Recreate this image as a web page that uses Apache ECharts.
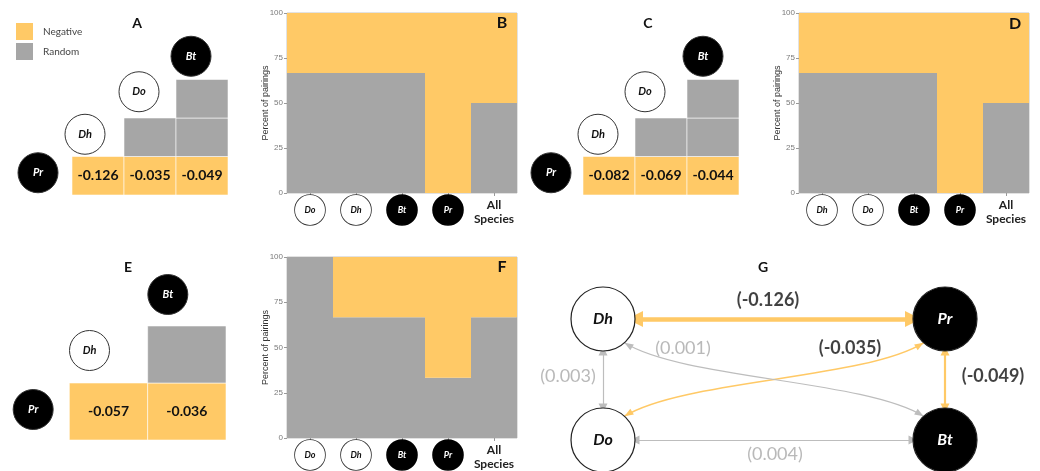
<!DOCTYPE html>
<html><head><meta charset="utf-8">
<script src="https://cdn.jsdelivr.net/npm/echarts@6/dist/echarts.min.js"></script>
<style>html,body{margin:0;padding:0;background:#fff}#c{width:1040px;height:471px}</style>
</head><body><div id="c"></div>
<script>
// ---------------- DATA ----------------
// Panels A, C, E: pairwise matrices  [column species, row species, association, C-score value]
const speciesA = ['Pr', 'Dh', 'Do', 'Bt'];
const cellsA = [['Dh','Pr','Negative',-0.126], ['Do','Pr','Negative',-0.035], ['Bt','Pr','Negative',-0.049],
                ['Do','Dh','Random',null], ['Bt','Dh','Random',null], ['Bt','Do','Random',null]];
const speciesC = ['Pr', 'Dh', 'Do', 'Bt'];
const cellsC = [['Dh','Pr','Negative',-0.082], ['Do','Pr','Negative',-0.069], ['Bt','Pr','Negative',-0.044],
                ['Do','Dh','Random',null], ['Bt','Dh','Random',null], ['Bt','Do','Random',null]];
const speciesE = ['Pr', 'Dh', 'Bt'];
const cellsE = [['Dh','Pr','Negative',-0.057], ['Bt','Pr','Negative',-0.036], ['Bt','Dh','Random',null]];
const darkSpecies = ['Pr', 'Bt'];

// Panels B, D, F: percent of pairings
const catsB = ['Do', 'Dh', 'Bt', 'Pr', 'All Species'];
const randomB = [66.7, 66.7, 66.7, 0, 50];
const negativeB = [33.3, 33.3, 33.3, 100, 50];
const catsD = ['Dh', 'Do', 'Bt', 'Pr', 'All Species'];
const randomD = [66.7, 66.7, 66.7, 0, 50];
const negativeD = [33.3, 33.3, 33.3, 100, 50];
const catsF = ['Do', 'Dh', 'Bt', 'Pr', 'All Species'];
const randomF = [100, 66.7, 66.7, 33.3, 66.7];
const negativeF = [0, 33.3, 33.3, 66.7, 33.3];
const yTickLabels = ['0', '25', '50', '75', '100'];

// Panel G: network
const nodesG = ['Dh', 'Pr', 'Do', 'Bt'];
const nodeColG = [0, 1, 0, 1];
const nodeRowG = [1, 1, 0, 0];
const linksG = [['Dh','Pr',-0.126,'Negative'], ['Pr','Bt',-0.049,'Negative'], ['Do','Pr',-0.035,'Negative'],
                ['Dh','Bt',0.001,'Random'], ['Dh','Do',0.003,'Random'], ['Do','Bt',0.004,'Random']];

// ---------------- STYLE / LAYOUT ----------------
const YELLOW = '#FFC966', GRAY = '#A6A6A6', LINKGRAY = '#BDBDBD', FONT = 'Lato';
const circleOffsetA = {Pr:[-8,-3], Dh:[-13,-3], Do:[-11,-7], Bt:[-11,-4]};
const circleOffsetC = {Pr:[-6,-3], Dh:[-11,-3], Do:[-16,-7], Bt:[-10,-4]};
const circleOffsetE = {Pr:[3,-2], Dh:[-19,-4], Bt:[-19,-3]};
const NODE_SIZE = 64;
const linkStyleG = {
  'Dh-Pr': {width:4.5, arrow:16, offset:[-6,-19], curved:false},
  'Pr-Bt': {width:2.2, arrow:9, offset:[48,-3], curved:false},
  'Do-Pr': {width:1.5, arrow:9, offset:[76,-31], curved:true},
  'Dh-Bt': {width:1.2, arrow:9, offset:[-91,-31], curved:true},
  'Dh-Do': {width:1.2, arrow:9, offset:[-35,-3], curved:false},
  'Do-Bt': {width:1.2, arrow:9, offset:[1,14], curved:false}
};
const linkKey = l => l[0] + '-' + l[1];

const grids = [
  {left:20, top:41, width:208, height:154},    // A 0
  {left:287, top:13, width:230, height:180},   // B 1
  {left:531, top:41, width:208, height:154},   // C 2
  {left:799, top:13, width:230, height:180},   // D 3
  {left:-9, top:269, width:235, height:171},   // E 4
  {left:287, top:257, width:230, height:181},  // F 5
  {left:603, top:319, width:342, height:121}   // G 6
].map((g, i) => Object.assign({outerBoundsMode:'none', containLabel:false,
   show: (i===1||i===3||i===5), borderColor:'#c4c4c4', borderWidth:1}, g));

const xAxes = [], yAxes = [], series = [];

function matrixPanel(gi, species, cells, offsets) {
  xAxes.push({type:'category', gridIndex:gi, data:species, show:false});
  yAxes.push({type:'category', gridIndex:gi, data:species, show:false});
  series.push({
    type:'custom', xAxisIndex:gi, yAxisIndex:gi, silent:true,
    encode:{x:0, y:1},
    data: cells.map(c => [c[0], c[1], c[3]]),
    renderItem: function (params, api) {
      const p = api.coord([api.value(0), api.value(1)]);
      const s = api.size([1, 1]);
      const cell = cells[params.dataIndex];
      const children = [{type:'rect', shape:{x:p[0]-s[0]/2, y:p[1]-s[1]/2, width:s[0], height:s[1]},
        style:{fill: cell[2]==='Negative' ? YELLOW : GRAY, stroke:'rgba(255,255,255,0.55)', lineWidth:1}}];
      if (cell[3] !== null) {
        children.push({type:'text', x:p[0], y:p[1], style:{text: cell[3].toFixed(3), align:'center',
          verticalAlign:'middle', font:'bold 14px ' + FONT, fill:'#111'}});
      }
      return {type:'group', children};
    }
  });
  series.push({
    type:'scatter', xAxisIndex:gi, yAxisIndex:gi, silent:true, symbol:'circle', symbolSize:40,
    data: species.map(s => {
      const dark = darkSpecies.includes(s);
      return {value:[s, s], name:s, symbolOffset: offsets[s],
        itemStyle:{color: dark ? '#000' : '#fff', borderColor:'#333', borderWidth:1, opacity:1},
        label:{color: dark ? '#fff' : '#111'}};
    }),
    label:{show:true, position:'inside', formatter:'{b}', fontStyle:'italic', fontWeight:'bold', fontSize:11, fontFamily:FONT}
  });
}

const circleTok = {width:30, height:30, lineHeight:30, borderRadius:15, borderWidth:0.8,
     align:'center', fontStyle:'italic', fontWeight:'bold', fontSize:9, fontFamily:FONT};
const rich = {
  w:Object.assign({}, circleTok, {backgroundColor:'#fff', borderColor:'#333', color:'#111'}),
  k:Object.assign({}, circleTok, {backgroundColor:'#000', borderColor:'#000', color:'#fff'}),
  a1:{fontWeight:'bold', fontSize:12, lineHeight:21, color:'#222', fontFamily:FONT, align:'center'},
  a2:{fontWeight:'bold', fontSize:12, lineHeight:6, color:'#222', fontFamily:FONT, align:'center'}
};

function barPanel(gi, cats, rnd, neg) {
  xAxes.push({type:'category', gridIndex:gi, data:cats,
    axisLine:{show:false}, axisTick:{show:true, alignWithLabel:true, length:3, lineStyle:{color:'#999'}},
    axisLabel:{interval:0, margin:2, rich,
      formatter: v => {
        if (v === 'All Species') { const w = v.split(' '); return '{a1|' + w[0] + '}\n{a2|' + w[1] + '}'; }
        return darkSpecies.includes(v) ? '{k|' + v + '}' : '{w|' + v + '}';
      }}});
  yAxes.push({type:'value', gridIndex:gi, min:0, max:100, interval:25,
    splitLine:{show:false}, axisLine:{show:false},
    axisTick:{show:true, length:3, lineStyle:{color:'#999'}},
    axisLabel:{fontSize:8, color:'#7a7a7a', margin:4, fontFamily:'Liberation Sans',
      formatter: (v) => yTickLabels[Math.round(v / 25)]},
    name:'Percent of pairings', nameLocation:'middle', nameGap:17, nameMoveOverlap:false,
    nameTextStyle:{fontSize:9, color:'#333', fontFamily:'Liberation Sans'}});
  series.push({name:'Random', type:'bar', stack:'s' + gi, xAxisIndex:gi, yAxisIndex:gi, data:rnd,
    barWidth:'100%', itemStyle:{color:GRAY}, silent:true});
  series.push({name:'Negative', type:'bar', stack:'s' + gi, xAxisIndex:gi, yAxisIndex:gi, data:neg,
    barWidth:'100%', itemStyle:{color:YELLOW}, silent:true});
}

matrixPanel(0, speciesA, cellsA, circleOffsetA);
barPanel(1, catsB, randomB, negativeB);
matrixPanel(2, speciesC, cellsC, circleOffsetC);
barPanel(3, catsD, randomD, negativeD);
matrixPanel(4, speciesE, cellsE, circleOffsetE);
barPanel(5, catsF, randomF, negativeF);

// Panel G
xAxes.push({type:'value', gridIndex:6, min:0, max:1, show:false});
yAxes.push({type:'value', gridIndex:6, min:0, max:1, show:false});
const posOf = n => [nodeColG[nodesG.indexOf(n)], nodeRowG[nodesG.indexOf(n)]];
const linkColor = l => l[3] === 'Negative' ? YELLOW : LINKGRAY;

// curved (S-shaped) links drawn with a custom series from node coordinates
const curvedLinks = linksG.filter(l => linkStyleG[linkKey(l)].curved);
series.push({
  type:'custom', xAxisIndex:6, yAxisIndex:6, silent:true, z:1,
  data: curvedLinks.map(l => posOf(l[0]).concat(posOf(l[1]))),
  encode:{x:[0,2], y:[1,3]},
  renderItem: function (params, api) {
    const l = curvedLinks[params.dataIndex];
    const st = linkStyleG[linkKey(l)];
    const a = api.coord([api.value(0), api.value(1)]);
    const b = api.coord([api.value(2), api.value(3)]);
    const r = NODE_SIZE / 2, ang = 48 * Math.PI / 180;
    const sx = Math.sign(b[0] - a[0]), sy = Math.sign(b[1] - a[1]);
    const S = [a[0] + sx * r * Math.cos(ang), a[1] + sy * r * Math.sin(ang)];
    const E = [b[0] - sx * r * Math.cos(ang), b[1] - sy * r * Math.sin(ang)];
    const midY = (S[1] + E[1]) / 2, k = 0.2 * (E[0] - S[0]);
    const C1 = [S[0] + k, midY], C2 = [E[0] - k, midY];
    const color = linkColor(l);
    function head(tip, from) {
      const dx = tip[0] - from[0], dy = tip[1] - from[1], d = Math.hypot(dx, dy);
      const ux = dx / d, uy = dy / d, L = st.arrow, W = st.arrow * 0.75;
      const bx = tip[0] - ux * L, by = tip[1] - uy * L;
      return {type:'polygon', shape:{points:[tip, [bx - uy * W / 2, by + ux * W / 2], [bx + uy * W / 2, by - ux * W / 2]]},
        style:{fill:color}};
    }
    return {type:'group', children:[
      {type:'bezierCurve', shape:{x1:S[0], y1:S[1], cpx1:C1[0], cpy1:C1[1], cpx2:C2[0], cpy2:C2[1], x2:E[0], y2:E[1]},
        style:{stroke:color, lineWidth:st.width, fill:null}},
      head(S, C1), head(E, C2)
    ]};
  }
});

series.push({
  type:'graph', coordinateSystem:'cartesian2d', xAxisIndex:6, yAxisIndex:6, silent:true, z:3,
  symbol:'circle', symbolSize:NODE_SIZE, edgeSymbol:['triangle','triangle'], edgeSymbolSize:9,
  data: nodesG.map((n, i) => {
    const dark = darkSpecies.includes(n);
    return {name:n, value:[nodeColG[i], nodeRowG[i]],
      itemStyle:{color: dark ? '#000' : '#fff', borderColor:'#222', borderWidth:1.2},
      label:{color: dark ? '#fff' : '#111'}};
  }),
  links: linksG.filter(l => !linkStyleG[linkKey(l)].curved).map(l => {
    const st = linkStyleG[linkKey(l)];
    return {source:l[0], target:l[1], symbolSize:st.arrow,
      lineStyle:{color: linkColor(l), width:st.width, curveness:0, opacity:1}};
  }),
  label:{show:true, position:'inside', formatter:'{b}', fontStyle:'italic', fontWeight:'bold', fontSize:16, fontFamily:FONT},
  edgeLabel:{show:false}
});
series.push({
  type:'scatter', xAxisIndex:6, yAxisIndex:6, silent:true, symbolSize:1, z:4,
  itemStyle:{color:'rgba(0,0,0,0)'},
  data: linksG.map(l => {
    const a = posOf(l[0]), b = posOf(l[1]);
    const st = linkStyleG[linkKey(l)];
    const neg = l[3] === 'Negative';
    return {value:[(a[0] + b[0]) / 2, (a[1] + b[1]) / 2],
      label:{formatter:'(' + l[2].toFixed(3) + ')', offset:st.offset,
        color: neg ? '#111' : '#A8A8A8', fontWeight: neg ? 'bold' : 'normal'}};
  }),
  label:{show:true, position:'inside', fontSize:18, fontFamily:FONT}
});

const letters = [['A',137,23,14],['B',502,23,16],['C',648,23,14],['D',1015,24,16],
                 ['E',128,267,14],['F',502,267,16],['G',763,267,14]];

const option = {
  animation:false,
  textStyle:{fontFamily:FONT},
  legend:{left:16, top:23, padding:0, orient:'vertical', itemWidth:17, itemHeight:17, itemGap:3, selectedMode:false,
    textStyle:{fontSize:10, color:'#444', fontFamily:FONT, padding:[0,0,0,5]},
    data:[{name:'Negative', icon:'rect'}, {name:'Random', icon:'rect'}]},
  grid: grids,
  xAxis: xAxes,
  yAxis: yAxes,
  series: series,
  graphic: letters.map(t => ({type:'text', x:t[1], y:t[2], silent:true, z:100,
    style:{text:t[0], font:'bold ' + t[3] + 'px ' + FONT, fill:'#111', align:'center', verticalAlign:'middle'}}))
};
const chart = echarts.init(document.getElementById('c'), null, {renderer:'canvas'});
chart.setOption(option);
</script></body></html>
